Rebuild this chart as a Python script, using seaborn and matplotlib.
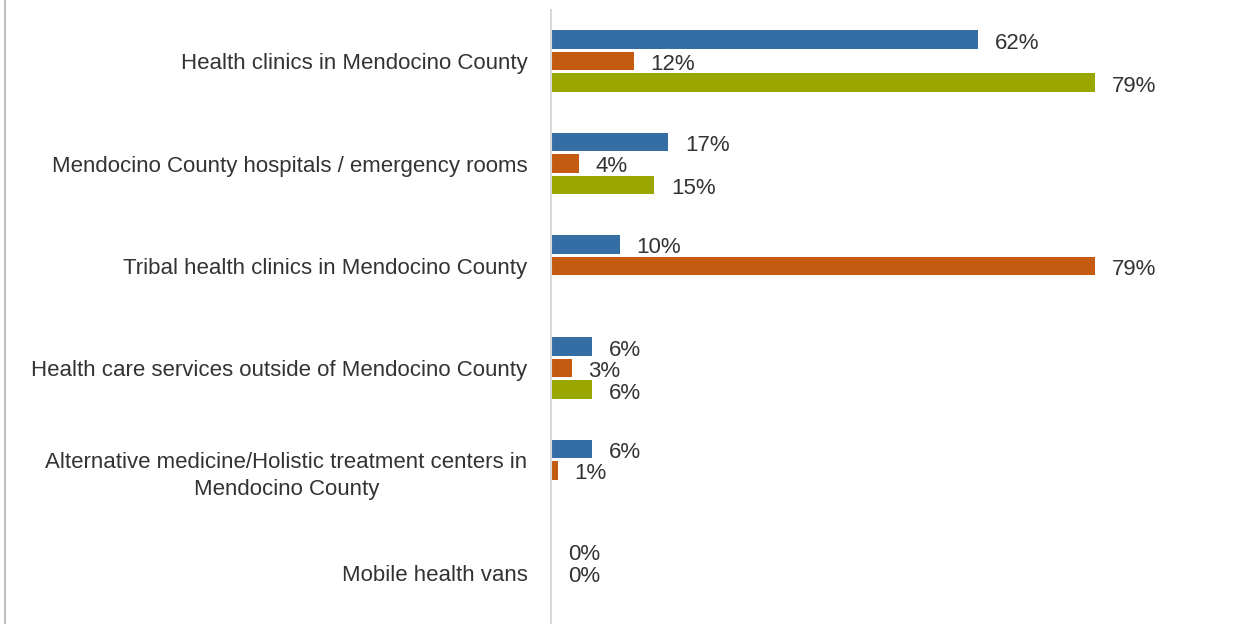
import matplotlib
matplotlib.use("Agg")
import matplotlib.pyplot as plt
from matplotlib.lines import Line2D
import seaborn as sns
import pandas as pd
import numpy as np

categories = [
    "Health clinics in Mendocino County",
    "Mendocino County hospitals / emergency rooms",
    "Tribal health clinics in Mendocino County",
    "Health care services outside of Mendocino County",
    "Alternative medicine/Holistic treatment centers in\nMendocino County",
    "Mobile health vans",
]
series_names = ["Series A", "Series B", "Series C"]
series_a = [62, 17, 10, 6, 6, 0]
series_b = [12, 4, 79, 3, 1, 0]
series_c = [79, 15, np.nan, 6, np.nan, np.nan]
colors = ["#356EA5", "#C55A11", "#99A600"]

rows = []
for name, vals in zip(series_names, [series_a, series_b, series_c]):
    for cat, v in zip(categories, vals):
        rows.append({"category": cat, "series": name, "value": v})
df = pd.DataFrame(rows)

sns.set_theme(style="white")
plt.rcParams["font.family"] = ["Liberation Sans", "DejaVu Sans"]

W, H = 1243, 624
fig = plt.figure(figsize=(W / 100, H / 100), dpi=100)
ax_left, ax_right = 551, 1171
ax_top, ax_bottom = 10, 624
ax = fig.add_axes([ax_left / W, (H - ax_bottom) / H, (ax_right - ax_left) / W, (ax_bottom - ax_top) / H])

sns.barplot(data=df, y="category", x="value", hue="series", order=categories,
            hue_order=series_names, palette=colors, orient="h", width=0.63, gap=0.14,
            ax=ax, legend=False, saturation=1, linewidth=0, edgecolor="none")

ax.set_xlim(0, 90)
ax.set_ylim(5.5, -0.5)
ax.set_xlabel("")
ax.set_ylabel("")
ax.set_xticks([])
for s in ["top", "right", "bottom"]:
    ax.spines[s].set_visible(False)
ax.spines["left"].set_color("#d9d9d9")
ax.spines["left"].set_linewidth(1.5)
ax.tick_params(axis="y", length=0, pad=17, labelsize=16, labelcolor="#333333")
for lbl in ax.get_yticklabels():
    lbl.set_multialignment("center")
    lbl.set_linespacing(1.35)

for cont in ax.containers:
    anns = ax.bar_label(cont, fmt="{:.0f}%", padding=12, fontsize=16, color="#333333")
    for a in anns:
        a.xyann = (12, -2.5)

fig.add_artist(Line2D([5 / W, 5 / W], [0, 1], color="#c0c0c0", linewidth=1.5, transform=fig.transFigure))

fig.savefig("out.png", dpi=100)
